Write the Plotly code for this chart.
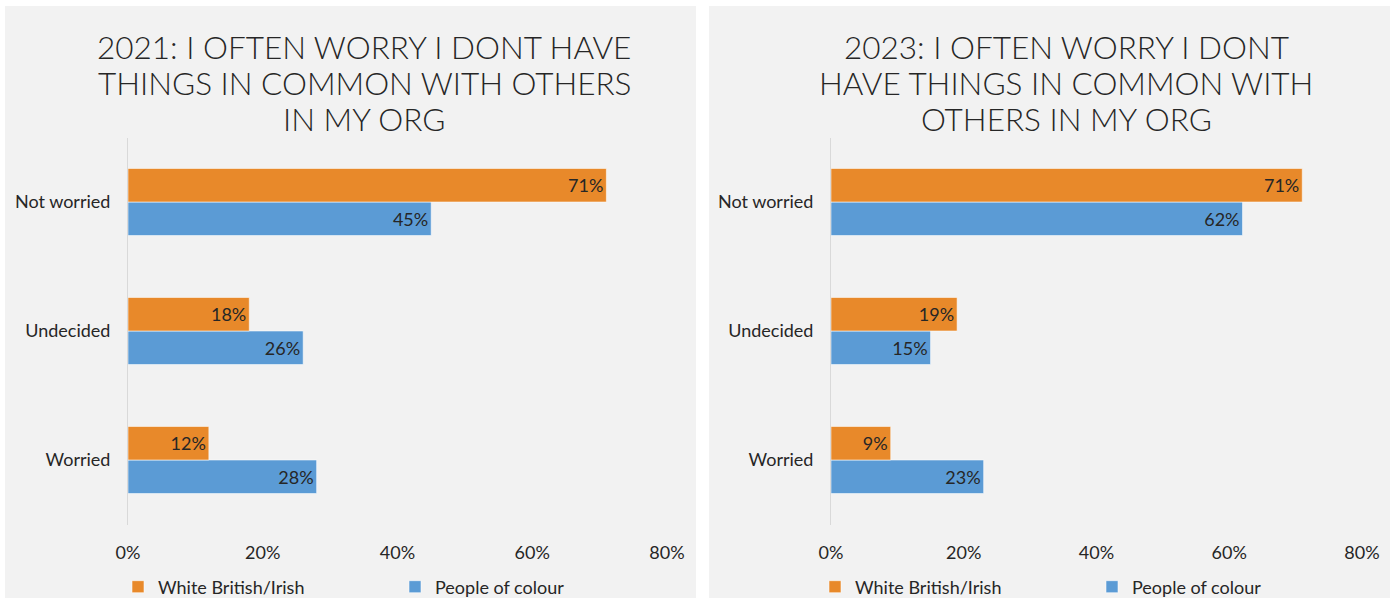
import plotly.graph_objects as go

# Survey responses by group, share of respondents
categories = ["Worried", "Undecided", "Not worried"]
white_2021 = [12, 18, 71]
poc_2021 = [28, 26, 45]
white_2023 = [9, 19, 71]
poc_2023 = [23, 15, 62]
series_names = ["White British/Irish", "People of colour"]
x_ticks = [0, 20, 40, 60, 80]
x_tick_labels = ["0%", "20%", "40%", "60%", "80%"]
title_lines = [
    ["2021: I OFTEN WORRY I DONT HAVE", "THINGS IN COMMON WITH OTHERS", "IN MY ORG"],
    ["2023: I OFTEN WORRY I DONT", "HAVE THINGS IN COMMON WITH", "OTHERS IN MY ORG"],
]

W, H = 1390, 599
ORANGE = "#E8892A"
BLUE = "#5B9BD5"
PANEL = "#F2F2F2"
TEXT = "#262626"
BODY_FONT = "Lato"


def px_x(v):
    return v / W


def px_y(v):
    return 1 - v / H


fig = go.Figure()

panels = [
    dict(white=white_2021, poc=poc_2021, xa="x", ya="y", legend="legend"),
    dict(white=white_2023, poc=poc_2023, xa="x2", ya="y2", legend="legend2"),
]

for p in panels:
    # blue first so the orange bar sits above it within each group
    fig.add_trace(go.Bar(
        y=categories, x=p["poc"], orientation="h", name=series_names[1],
        marker=dict(color=BLUE, line=dict(color="rgba(255,255,255,0.55)", width=1)),
        text=[f"{v}%" for v in p["poc"]], textposition="inside",
        insidetextanchor="end", textfont=dict(color=TEXT, size=18, family=BODY_FONT),
        xaxis=p["xa"], yaxis=p["ya"], legend=p["legend"], legendrank=2,
        hoverinfo="skip",
    ))
    fig.add_trace(go.Bar(
        y=categories, x=p["white"], orientation="h", name=series_names[0],
        marker=dict(color=ORANGE, line=dict(color="rgba(255,255,255,0.55)", width=1)),
        text=[f"{v}%" for v in p["white"]], textposition="inside",
        insidetextanchor="end", textfont=dict(color=TEXT, size=18, family=BODY_FONT),
        xaxis=p["xa"], yaxis=p["ya"], legend=p["legend"], legendrank=1,
        hoverinfo="skip",
    ))

y_dom = [px_y(524.5), px_y(137.5)]
xaxis_common = dict(
    range=[0, 80], tickvals=x_ticks, ticktext=x_tick_labels,
    showgrid=False, zeroline=False, showline=False, fixedrange=True,
    tickfont=dict(size=18, color=TEXT, family=BODY_FONT), ticks="",
    ticklabelstandoff=15, automargin=False,
)
yaxis_common = dict(
    showgrid=False, zeroline=False, showline=True, linecolor="#D9D9D9",
    linewidth=1, tickfont=dict(size=18, color=TEXT, family=BODY_FONT),
    ticks="", ticklabelstandoff=13, fixedrange=True, automargin=False,
    categoryorder="array", categoryarray=categories,
)

legend_common = dict(
    orientation="h", xanchor="left", yanchor="middle",
    font=dict(size=18, color=TEXT, family=BODY_FONT),
    bgcolor="rgba(0,0,0,0)", entrywidth=232, entrywidthmode="pixels",
    itemclick=False, itemdoubleclick=False,
)

title_font = dict(size=31.5, color=TEXT, family="Lato", weight=300)
title_centres = [364, 1066]
title_rows = [47, 83, 119]
annotations = []
for cx, lines in zip(title_centres, title_lines):
    for row_y, line in zip(title_rows, lines):
        annotations.append(dict(
            text=line, x=px_x(cx), y=px_y(row_y), xref="paper", yref="paper",
            xanchor="center", yanchor="middle", showarrow=False, font=title_font,
        ))

fig.update_layout(
    width=W, height=H,
    margin=dict(l=0, r=0, t=0, b=0, autoexpand=False),
    paper_bgcolor="white", plot_bgcolor="rgba(0,0,0,0)",
    barmode="group", bargap=0.48, bargroupgap=0,
    xaxis=dict(domain=[px_x(128), px_x(667)], anchor="y", **xaxis_common),
    yaxis=dict(domain=y_dom, anchor="x", **yaxis_common),
    xaxis2=dict(domain=[px_x(831), px_x(1362)], anchor="y2", **xaxis_common),
    yaxis2=dict(domain=y_dom, anchor="x2", **yaxis_common),
    legend=dict(x=px_x(118), y=px_y(587), **legend_common),
    legend2=dict(x=px_x(815), y=px_y(587), **legend_common),
    showlegend=True,
    shapes=[
        dict(type="rect", xref="paper", yref="paper", layer="below",
             x0=px_x(5), x1=px_x(696), y0=px_y(598), y1=px_y(6),
             fillcolor=PANEL, line=dict(width=0)),
        dict(type="rect", xref="paper", yref="paper", layer="below",
             x0=px_x(709), x1=px_x(1390), y0=px_y(598), y1=px_y(6),
             fillcolor=PANEL, line=dict(width=0)),
    ],
    annotations=annotations,
)

fig.write_html("out.html")
